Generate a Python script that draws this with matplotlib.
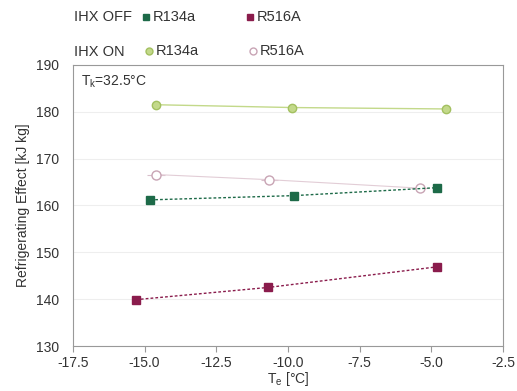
import matplotlib.pyplot as plt
from matplotlib.lines import Line2D

plt.rcParams['font.family'] = ['Liberation Sans', 'DejaVu Sans']

# evaporating temperature [C] and refrigerating effect [kJ/kg]
te_r134a_off = [-14.8, -9.8, -4.8]
qe_r134a_off = [161.2, 162.1, 163.8]
te_r516a_off = [-15.3, -10.7, -4.8]
qe_r516a_off = [139.9, 142.5, 146.9]
te_r134a_on = [-14.6, -9.85, -4.5]
qe_r134a_on = [181.5, 180.9, 180.6]
te_r516a_on = [-14.6, -10.65, -5.4]
qe_r516a_on = [166.6, 165.5, 163.7]

xticks = [-17.5, -15.0, -12.5, -10.0, -7.5, -5.0, -2.5]
yticks = [130, 140, 150, 160, 170, 180, 190]

c_green = '#1d6a48'
c_maroon = '#8a1c4c'
c_lgreen = '#c3d98a'
c_lgreen_edge = '#a3c060'
c_pink_edge = '#c8a4b4'

fig = plt.figure(figsize=(5.17, 3.91), dpi=100)
ax = fig.add_axes([0.141, 0.115, 0.832, 0.719])

ax.plot(te_r134a_on, qe_r134a_on, '-', color=c_lgreen, lw=1.0, marker='o', ms=6,
        mfc=c_lgreen, mec=c_lgreen_edge, zorder=3)
ax.errorbar(te_r516a_on, qe_r516a_on, xerr=0.3, fmt='-', color='#e2cdd6', lw=0.8,
            ecolor='#d9bfcb', elinewidth=0.8, zorder=3)
ax.plot(te_r516a_on, qe_r516a_on, 'o', ms=6.5, mfc='white', mec=c_pink_edge, zorder=4)
ax.plot(te_r134a_off, qe_r134a_off, linestyle=(0, (2, 1.5)), color=c_green, lw=1.0,
        marker='s', ms=5.5, zorder=4)
ax.plot(te_r516a_off, qe_r516a_off, linestyle=(0, (2, 1.5)), color=c_maroon, lw=1.0,
        marker='s', ms=5.5, zorder=4)

ax.set_xlim(-17.5, -2.5)
ax.set_ylim(130, 190)
ax.set_xticks(xticks)
ax.set_xticklabels([f'{t:.1f}' for t in xticks])
ax.set_yticks(yticks)
ax.grid(axis='y', color='#eeeeee', lw=0.8)
ax.set_axisbelow(True)
for s in ax.spines.values():
    s.set_color('#999999')
ax.tick_params(axis='x', colors='#999999', labelcolor='#333333', labelsize=10, length=4)
ax.tick_params(axis='y', length=0, labelcolor='#333333', labelsize=10, pad=10)
ax.set_xlabel('T$_\\mathregular{e}$ [°C]', fontsize=10, color='#333333', labelpad=0)
ax.set_ylabel('Refrigerating Effect [kJ kg]', fontsize=10, color='#333333')
ax.text(0.018, 0.97, 'T$_\\mathregular{k}$=32.5°C', transform=ax.transAxes,
        fontsize=10, color='#333333', va='top')

# legend drawn by hand
def fx(px):
    return px / 517

def fy(py):
    return 1 - py / 391

fig.text(fx(74), fy(17), 'IHX OFF', fontsize=10.5, color='#333333', va='center')
fig.text(fx(74), fy(52), 'IHX ON', fontsize=10.5, color='#333333', va='center')
items = [
    (146, 17, 's', c_green, c_green, 'R134a'),
    (250, 17, 's', c_maroon, c_maroon, 'R516A'),
    (149, 51, 'o', c_lgreen, c_lgreen_edge, 'R134a'),
    (253, 51, 'o', 'white', c_pink_edge, 'R516A'),
]
for px, py, m, fc, ec, lab in items:
    fig.add_artist(Line2D([fx(px)], [fy(py)], marker=m, ms=5, mfc=fc, mec=ec,
                          transform=fig.transFigure))
    fig.text(fx(px + 7), fy(py), lab, fontsize=10.5, color='#333333', va='center')

plt.savefig('out.png', dpi=100)
